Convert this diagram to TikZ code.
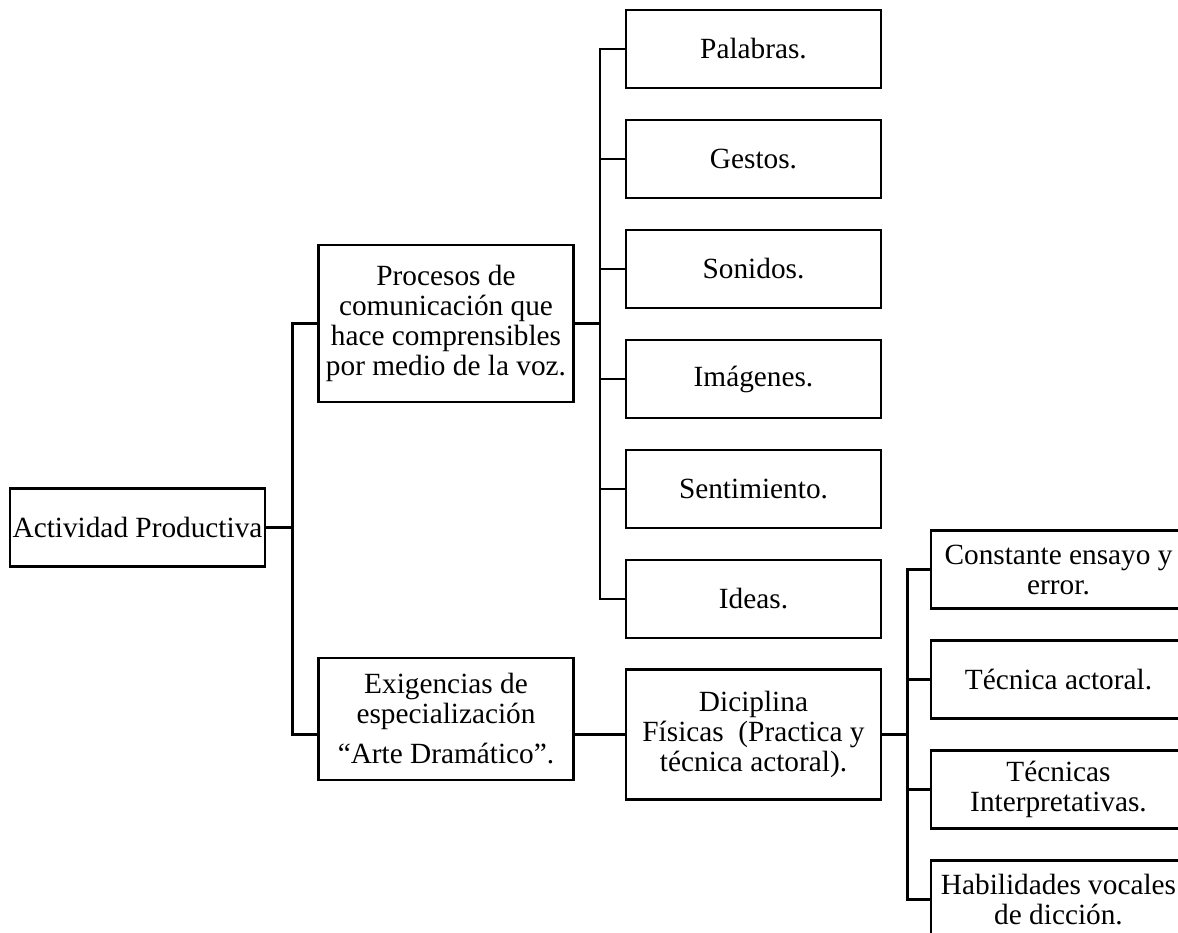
\documentclass[tikz,border=0pt]{standalone}
\usepackage{fontspec}
\setmainfont{Liberation Serif}
\usepackage{tikz}
\usetikzlibrary{positioning}

\begin{document}
\begin{tikzpicture}[x=1pt, y=-1pt, line width=2.7pt,
      every node/.style={align=center, rectangle, draw, inner sep=0pt, minimum width=255pt, minimum height=78pt, font=\fontsize{29.3}{30}\selectfont},
      leaf/.style={below=29.3pt of #1}]
      \useasboundingbox (0,0) rectangle (1178,932);
      \node (root) at (137.5,527.5) {Actividad Productiva};
      \node (procesos) [minimum height=157pt] at (446,323.5) {Procesos de\\comunicación que\\hace comprensibles\\por medio de la voz.};
      \node (exigencias) [minimum height=122pt] at (446,719) {Exigencias de\\especialización\\[10pt]“Arte Dramático”.};
      \node (palabras) at (753.5,49) {Palabras.};
      \node (gestos) [leaf=palabras] {Gestos.};
      \node (sonidos) [leaf=gestos] {Sonidos.};
      \node (imagenes) [leaf=sonidos] {Imágenes.};
      \node (sentimiento) [leaf=imagenes] {Sentimiento.};
      \node (ideas) [leaf=sentimiento] {Ideas.};
      \node (diciplina) [minimum height=130pt] at (753.5,734.5) {Diciplina\\Físicas\ \ (Practica y\\técnica actoral).};
      \node (constante) at (1058.5,569.5) {Constante ensayo y\\error.};
      \node (tecnica) [leaf=constante] {Técnica actoral.};
      \node (tecnicas) [leaf=tecnica] {Técnicas\\Interpretativas.};
      \node (habilidades) [leaf=tecnicas] {Habilidades vocales\\de dicción.};

      \draw (root.east) -- ++(26,0) |- (procesos.west);
      \draw (root.east) -- ++(26,0) |- (exigencias.west |- diciplina.west);
      \draw (exigencias.east |- diciplina.west) -- (diciplina.west);
      \draw (procesos.east) -- ++(25,0) |- (palabras.west);
      \draw (procesos.east) -- ++(25,0) |- (gestos.west);
      \draw (procesos.east) -- ++(25,0) |- (sonidos.west);
      \draw (procesos.east) -- ++(25,0) |- (imagenes.west);
      \draw (procesos.east) -- ++(25,0) |- (sentimiento.west);
      \draw (procesos.east) -- ++(25,0) |- (ideas.west);
      \draw (diciplina.east) -- ++(25,0) |- (constante.west);
      \draw (diciplina.east) -- ++(25,0) |- (tecnica.west);
      \draw (diciplina.east) -- ++(25,0) |- (tecnicas.west);
      \draw (diciplina.east) -- ++(25,0) |- (habilidades.west);
    \end{tikzpicture}
\end{document}
